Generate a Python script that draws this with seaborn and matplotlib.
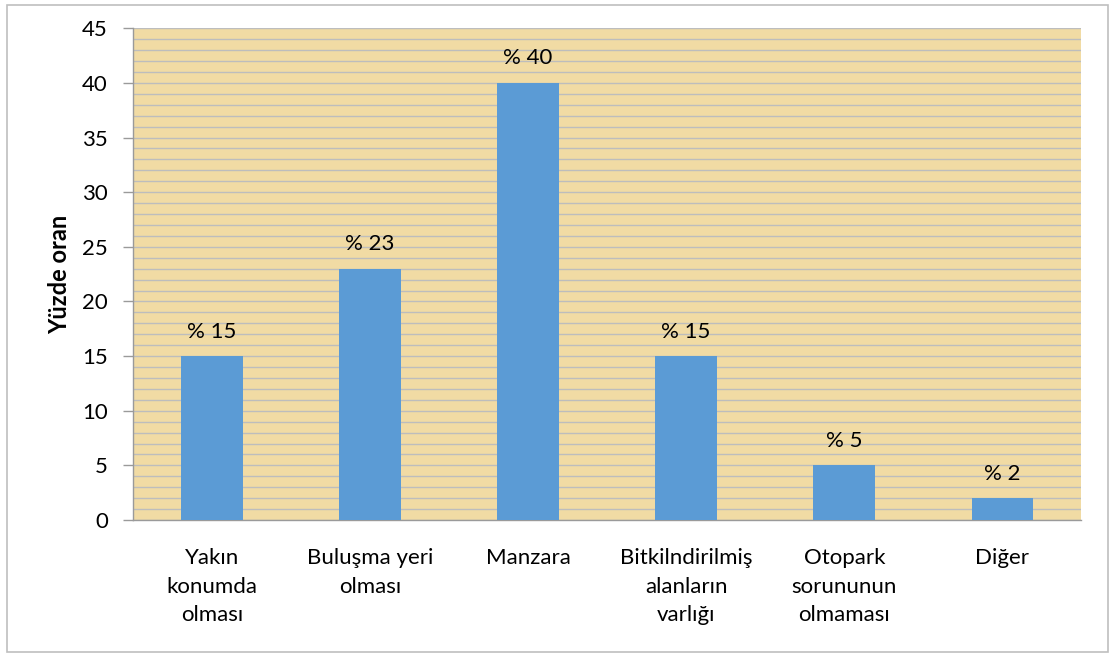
import numpy as np
import pandas as pd
import matplotlib
matplotlib.use("Agg")
import matplotlib.pyplot as plt
from matplotlib.ticker import MultipleLocator, FixedLocator
from matplotlib.patches import Rectangle
import seaborn as sns

# ── Data ──────────────────────────────────────────────────────
categories = ["Yakın\nkonumda\nolması", "Buluşma yeri\nolması", "Manzara",
              "Bitkilndirilmiş\nalanların\nvarlığı", "Otopark\nsorununun\nolmaması",
              "Diğer"]
values = [15, 23, 40, 15, 5, 2]
labels = ["% 15", "% 23", "% 40", "% 15", "% 5", "% 2"]

df = pd.DataFrame({"kategori": categories, "oran": values})

# ── Style ─────────────────────────────────────────────────────
sns.set_theme(style="white")
plt.rcParams['font.family'] = ['Lato', 'DejaVu Sans']
plt.rcParams['text.color'] = 'black'

fig = plt.figure(figsize=(11.16, 6.57), dpi=100)
ax = fig.add_axes([0.119, 0.2085, 0.85, 0.7485])

ax.set_facecolor("#F1DBA4")
sns.barplot(data=df, x="kategori", y="oran", color="#5B9BD5",
            width=0.39, saturation=1, linewidth=0, ax=ax, zorder=3)

ax.set_ylim(0, 45)
ax.set_xlim(-0.5, len(categories) - 0.5)
ax.yaxis.set_major_locator(MultipleLocator(5))
ax.yaxis.set_minor_locator(MultipleLocator(1))
ax.grid(which="both", axis="y", color="#BDBDBD", linewidth=1.0, zorder=1)
ax.set_axisbelow(True)

# category separators as ticks on the x axis
ax.xaxis.set_minor_locator(FixedLocator(np.arange(-0.5, len(categories), 1)))
ax.tick_params(axis="x", which="major", length=0, pad=20, labelsize=16, labelcolor="black")
ax.tick_params(axis="x", which="minor", length=7, width=1, color="#9A9A9A", direction="out")
ax.tick_params(axis="y", which="major", length=7, width=1, color="#9A9A9A", pad=11,
               direction="out", labelsize=16, labelcolor="black", left=True)
ax.tick_params(axis="y", which="minor", length=0)
for t in ax.get_xticklabels():
    t.set_linespacing(1.55)

for s in ["top", "right"]:
    ax.spines[s].set_visible(False)
for s in ["left", "bottom"]:
    ax.spines[s].set_color("#9A9A9A")
    ax.spines[s].set_linewidth(1)

ax.set_xlabel("")
ax.set_ylabel("Yüzde oran", fontsize=17, fontweight="bold", labelpad=8, color="black")

for i, (v, t) in enumerate(zip(values, labels)):
    ax.text(i, v + 1.7, t, ha="center", va="baseline", fontsize=16, zorder=4)

# outer chart border
fig.patches.append(Rectangle((0.006, 0.008), 0.987, 0.985, transform=fig.transFigure,
                             fill=False, edgecolor="#BFBFBF", linewidth=1.2))

fig.savefig("out.png", dpi=100)
